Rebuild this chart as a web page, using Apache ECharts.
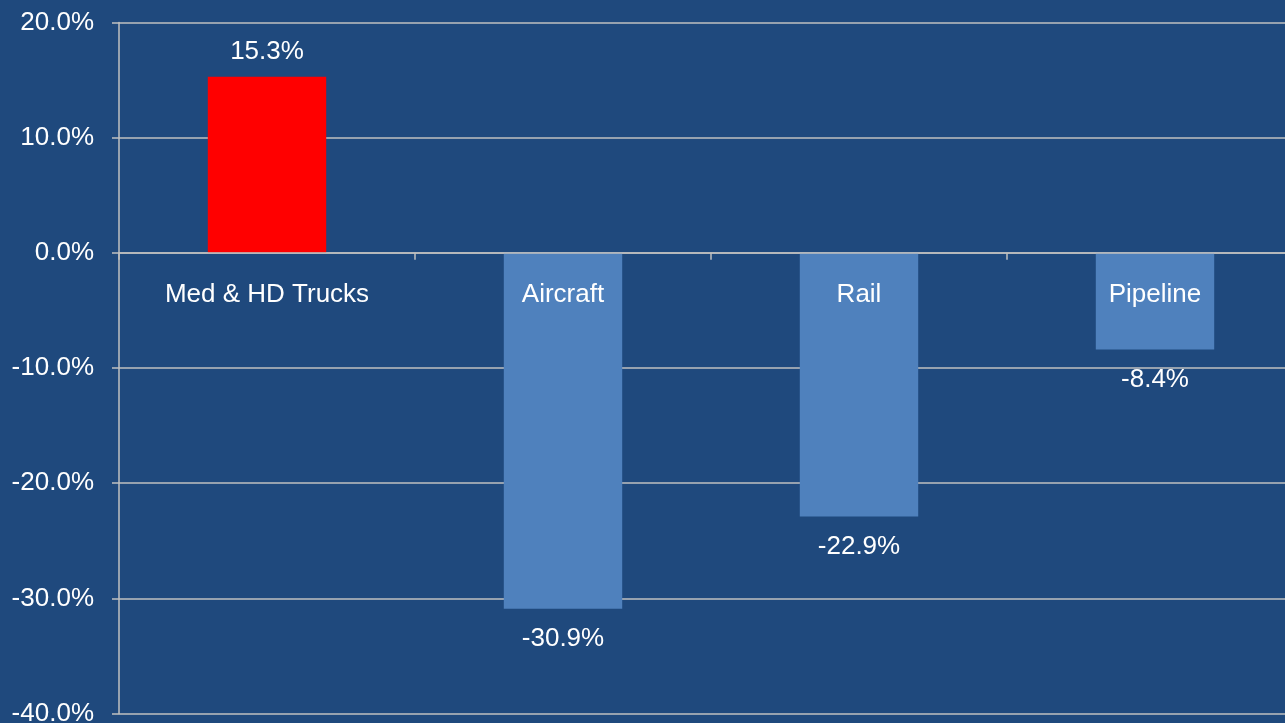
<!DOCTYPE html>
<html>
<head>
<meta charset="utf-8">
<script src="https://cdn.jsdelivr.net/npm/echarts@6/dist/echarts.min.js"></script>
<style>
  html, body { margin: 0; padding: 0; background: #1F497D; }
  #chart { width: 1285px; height: 723px; }
</style>
</head>
<body>
<div id="chart"></div>
<script>
const categories = ['Med & HD Trucks', 'Aircraft', 'Rail', 'Pipeline'];
const changes = [15.3, -30.9, -22.9, -8.4];
const yMin = -40;
const yMax = 20;
const yStep = 10;

const chart = echarts.init(document.getElementById('chart'));
const font = 'Liberation Sans, Arial, sans-serif';
const lineColor = '#c0c0c0';
const gridHeight = 691;

// the category axis sits on the zero line, labels underneath it
const zeroOffset = -gridHeight * (0 - yMin) / (yMax - yMin);

const option = {
    backgroundColor: '#1F497D',
    animation: false,
    grid: {
        left: 119,
        top: 22.5,
        width: 1184,
        height: gridHeight,
        containLabel: false,
        outerBoundsMode: 'none'
    },
    xAxis: {
        type: 'category',
        data: categories,
        offset: zeroOffset,
        axisLine: { onZero: false, lineStyle: { color: lineColor, width: 1.5 } },
        axisTick: { show: true, length: 7, lineStyle: { color: lineColor, width: 1.5 } },
        axisLabel: { color: '#ffffff', fontSize: 26, fontFamily: font, margin: 29, interval: 0 },
        splitLine: { show: false },
        z: 5
    },
    yAxis: {
        type: 'value',
        min: yMin,
        max: yMax,
        interval: yStep,
        axisLine: { show: true, lineStyle: { color: lineColor, width: 1.5 } },
        axisTick: { show: true, length: 7, lineStyle: { color: lineColor, width: 1.5 } },
        axisLabel: {
            color: '#ffffff',
            fontSize: 26,
            fontFamily: font,
            margin: 25,
            padding: [5, 0, 0, 0],
            formatter: (v) => v.toFixed(1) + '%'
        },
        splitLine: { show: true, lineStyle: { color: lineColor, width: 1.5 } }
    },
    series: [
        {
            type: 'bar',
            barWidth: '40%',
            data: changes.map(v => ({
                value: v,
                itemStyle: { color: v >= 0 ? '#FF0000' : '#4F81BD' },
                label: {
                    show: true,
                    position: v >= 0 ? 'top' : 'bottom',
                    distance: v >= 0 ? 12 : 17,
                    color: '#ffffff',
                    fontSize: 26,
                    fontFamily: font,
                    formatter: (p) => p.value.toFixed(1) + '%'
                }
            }))
        }
    ]
};

chart.setOption(option);
</script>
</body>
</html>
